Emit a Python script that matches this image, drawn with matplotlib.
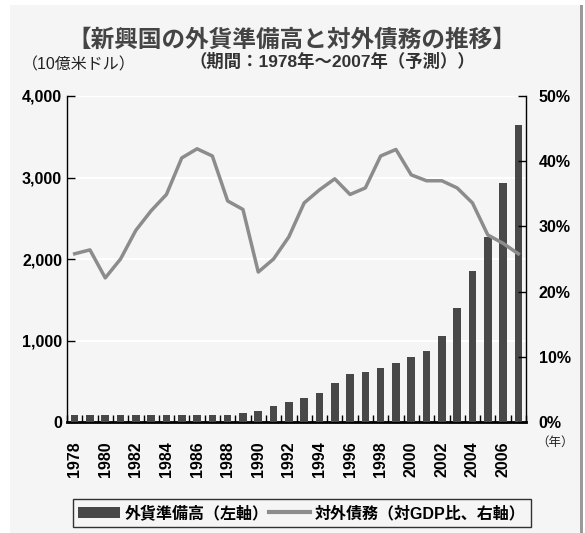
import numpy as np
import matplotlib.pyplot as plt
from matplotlib.patches import Patch, Rectangle
from matplotlib.lines import Line2D

plt.rcParams['font.family'] = ['Liberation Sans', 'Noto Sans CJK JP', 'DejaVu Sans']

years = list(range(1978, 2008))
# 外貨準備高 (10億米ドル)
reserves = [85, 85, 85, 85, 85, 85, 85, 85, 85, 85, 85, 106, 131, 197, 242,
            295, 352, 480, 586, 611, 660, 721, 795, 869, 1053, 1398, 1852,
            2270, 2933, 3644]
# 対外債務 (対GDP比, %)
debt = [25.8, 26.4, 22.1, 25.0, 29.4, 32.4, 34.9, 40.5, 41.9, 40.8, 33.9,
        32.6, 23.0, 25.0, 28.4, 33.6, 35.6, 37.3, 34.9, 35.9, 40.8, 41.8,
        37.9, 37.0, 37.0, 35.9, 33.6, 28.7, 27.4, 25.8]

bg = '#f5f5f5'
fig = plt.figure(figsize=(5.85, 5.33), dpi=100)
fig.patch.set_facecolor('white')
# panel background
fig.patches.append(Rectangle((10 / 585, 0), 570 / 585, 528 / 533, transform=fig.transFigure,
                             facecolor=bg, edgecolor='none', zorder=-10))
fig.patches.append(Rectangle((580 / 585, 0), 3 / 585, 528 / 533, transform=fig.transFigure,
                             facecolor='#9a9a9a', edgecolor='none', zorder=-9))

ax = fig.add_axes([67 / 585, 1 - 422 / 533, 459 / 585, 326 / 533])
ax.set_facecolor(bg)
x = np.arange(len(years))
ax.bar(x, reserves, width=0.5, color='#484848', zorder=3)
ax.set_xlim(-0.5, len(years) - 0.5)
ax.set_ylim(0, 4000)
ax.set_yticks([0, 1000, 2000, 3000, 4000])
ax.set_yticklabels(['0', '1,000', '2,000', '3,000', '4,000'], fontsize=11.5, fontweight='bold')
for v in [1000, 2000, 3000, 4000]:
    ax.axhline(v, color='white', lw=1.5, zorder=1)
ax.set_xticks(x[::2])
ax.set_xticklabels([str(y) for y in years[::2]], rotation=90, fontsize=11.5, fontweight='bold')
ax.set_xticks(np.arange(-0.5, len(years), 1), minor=True)
ax.tick_params(axis='x', which='major', length=0, pad=14)
ax.tick_params(axis='x', which='minor', direction='in', length=5, width=1)
ax.tick_params(axis='y', direction='in', length=6, width=1)
ax.spines['top'].set_visible(False)
ax.spines['right'].set_visible(False)
ax.spines['left'].set_linewidth(1)
ax.spines['bottom'].set_linewidth(2)

ax2 = ax.twinx()
ax2.plot(x, debt, color='#8c8c8c', lw=2.5, zorder=4)
ax2.set_ylim(0, 50)
ax2.set_yticks([0, 10, 20, 30, 40, 50])
ax2.set_yticklabels([f'{v}%' for v in [0, 10, 20, 30, 40, 50]], fontsize=11.5, fontweight='bold')
ax2.tick_params(axis='y', direction='in', length=6, width=1, pad=9)
ax2.spines['top'].set_visible(False)
ax2.spines['left'].set_visible(False)
ax2.spines['bottom'].set_visible(False)
ax2.spines['right'].set_linewidth(1)

fig.text(292 / 585, 1 - 40 / 533, '【新興国の外貨準備高と対外債務の推移】', ha='center', va='center',
         fontsize=17, fontweight='bold', color='#444444')
fig.text(332 / 585, 1 - 61 / 533, '（期間：1978年～2007年（予測））', ha='center', va='center',
         fontsize=12.5, fontweight='bold', color='#333333')
fig.text(22 / 585, 1 - 65 / 533, '（10億米ドル）', ha='left', va='center', fontsize=11.5, color='#222222')
fig.text(555 / 585, 1 - 443 / 533, '（年）', ha='center', va='center', fontsize=9, color='#222222')

handles = [Patch(facecolor='#484848', edgecolor='none'),
           Line2D([0], [0], color='#8c8c8c', lw=3)]
labels = ['外貨準備高（左軸）', '対外債務（対GDP比、右軸）']
leg = fig.legend(handles, labels, loc='center', bbox_to_anchor=(302 / 585, 1 - 513 / 533), ncol=2,
                 frameon=True, fancybox=False, edgecolor='black', facecolor=bg,
                 prop={'size': 11.5, 'weight': 'bold'}, handlelength=2.6, columnspacing=0.0,
                 handletextpad=0.3, borderpad=0.35)
leg.get_frame().set_linewidth(1)

fig.savefig('out.png', dpi=100)
